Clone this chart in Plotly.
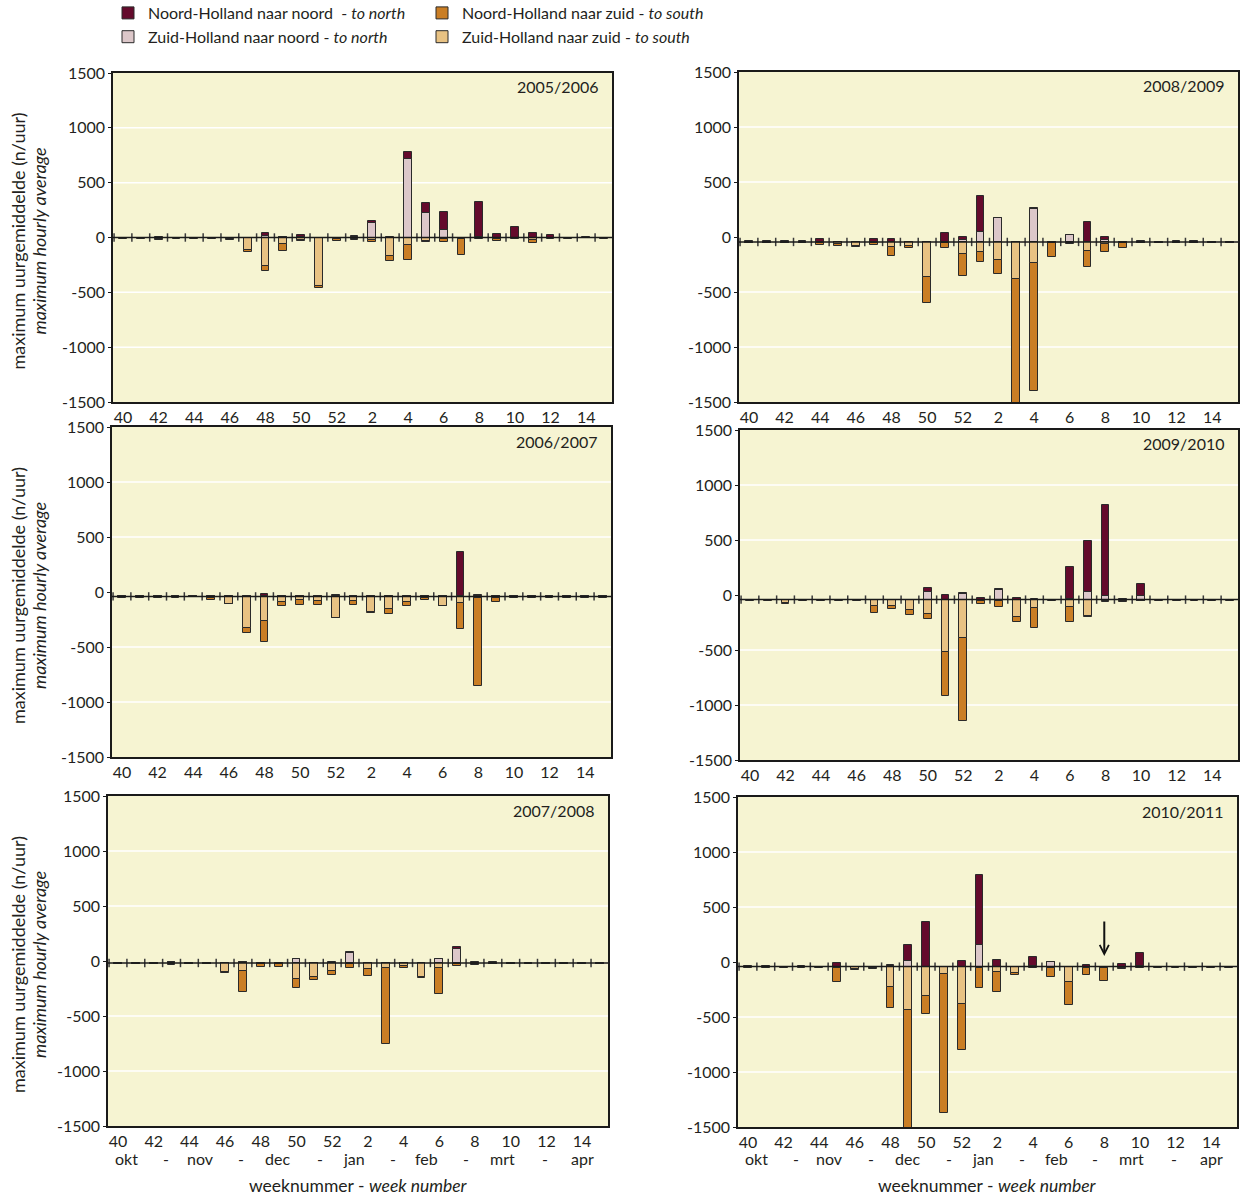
import plotly.graph_objects as go

# ---------------------------------------------------------------------------
# Week axis: week 40 of the first year up to week 15 of the next year
weeks = list(range(40, 53)) + list(range(1, 16))
tick_weeks = [40, 42, 44, 46, 48, 50, 52, 2, 4, 6, 8, 10, 12, 14]
y_ticks = [-1500, -1000, -500, 0, 500, 1000, 1500]
months = ["okt", "-", "nov", "-", "dec", "-", "jan", "-", "feb", "-", "mrt", "-", "apr"]

seasons = ["2005/2006", "2006/2007", "2007/2008", "2008/2009", "2009/2010", "2010/2011"]

# Maximum hourly average per week (n/uur); north positive, south as magnitudes
nh_noord_0506 = [0, 0, 8, 0, 0, 0, 0, 0, 25, 0, 20, 0, 0, 8, 10, 5, 64, 91, 167, 0, 318, 33, 100, 40, 24, 0, 8, 0]
zh_noord_0506 = [0, 0, 0, 0, 0, 0, 0, 0, 15, 5, 7, 0, 0, 5, 136, 0, 712, 221, 70, 0, 5, 0, 0, 0, 0, 0, 0, 0]
zh_zuid_0506 = [5, 5, 12, 5, 5, 8, 15, 115, 264, 60, 20, 445, 15, 12, 25, 173, 67, 30, 15, 15, 5, 15, 5, 20, 5, 8, 3, 5]
nh_zuid_0506 = [8, 6, 10, 6, 6, 8, 12, 15, 40, 67, 16, 15, 21, 12, 14, 42, 136, 15, 30, 145, 8, 21, 10, 32, 6, 8, 4, 6]

nh_noord_0607 = [0, 0, 0, 0, 6, 0, 0, 0, 20, 0, 0, 0, 15, 0, 0, 0, 0, 0, 0, 403, 15, 0, 8, 0, 8, 8, 0, 0]
zh_noord_0607 = [0, 0, 0, 0, 0, 0, 0, 0, 0, 0, 0, 0, 0, 0, 0, 0, 0, 0, 0, 5, 0, 0, 0, 0, 0, 0, 0, 0]
zh_zuid_0607 = [5, 5, 5, 5, 3, 10, 67, 285, 224, 52, 30, 45, 194, 45, 145, 112, 52, 10, 85, 58, 15, 10, 5, 5, 5, 5, 5, 5]
nh_zuid_0607 = [6, 6, 6, 6, 5, 20, 6, 45, 188, 36, 48, 33, 6, 30, 6, 45, 33, 20, 6, 236, 803, 40, 8, 5, 5, 5, 5, 5]

nh_noord_0708 = [0, 0, 0, 8, 0, 0, 0, 0, 0, 0, 0, 0, 8, 10, 0, 0, 0, 0, 0, 15, 8, 8, 0, 0, 0, 0, 0, 0]
zh_noord_0708 = [0, 0, 0, 5, 0, 0, 0, 12, 0, 0, 33, 0, 0, 88, 0, 0, 0, 0, 33, 130, 0, 0, 0, 0, 0, 0, 0, 0]
zh_zuid_0708 = [5, 5, 5, 8, 5, 5, 79, 73, 8, 8, 148, 127, 76, 8, 58, 45, 25, 127, 42, 8, 8, 5, 5, 5, 5, 5, 5, 5]
nh_zuid_0708 = [6, 6, 6, 8, 6, 6, 9, 188, 25, 25, 79, 24, 33, 37, 58, 688, 25, 9, 240, 20, 10, 6, 6, 6, 6, 6, 6, 6]

nh_noord_0809 = [5, 5, 5, 5, 30, 0, 0, 30, 24, 0, 0, 82, 27, 327, 5, 0, 8, 0, 5, 179, 25, 0, 5, 0, 5, 5, 0, 0]
zh_noord_0809 = [0, 0, 0, 0, 0, 0, 0, 0, 0, 0, 0, 0, 15, 91, 215, 0, 303, 0, 60, 0, 20, 0, 0, 0, 0, 0, 0, 0]
zh_zuid_0809 = [5, 5, 5, 5, 8, 15, 35, 8, 45, 40, 321, 8, 106, 91, 164, 336, 191, 5, 8, 79, 18, 8, 5, 5, 5, 5, 5, 5]
nh_zuid_0809 = [6, 6, 6, 6, 17, 25, 10, 17, 79, 15, 233, 50, 200, 88, 124, 1180, 1167, 136, 8, 152, 76, 48, 6, 6, 6, 6, 6, 6]

nh_noord_0910 = [0, 0, 0, 0, 0, 0, 0, 0, 0, 0, 39, 39, 5, 15, 5, 15, 10, 0, 291, 467, 833, 10, 106, 0, 0, 0, 0, 0]
zh_noord_0910 = [0, 0, 0, 0, 0, 0, 0, 0, 0, 0, 67, 0, 52, 0, 91, 0, 0, 0, 5, 67, 30, 0, 36, 0, 0, 0, 0, 0]
zh_zuid_0910 = [5, 5, 30, 5, 5, 5, 5, 61, 61, 97, 130, 479, 348, 15, 15, 161, 79, 5, 64, 152, 8, 8, 8, 5, 5, 5, 5, 5]
nh_zuid_0910 = [6, 6, 10, 6, 6, 6, 8, 61, 21, 45, 48, 400, 758, 24, 55, 45, 182, 10, 139, 6, 10, 10, 8, 6, 6, 6, 6, 6]

nh_noord_1011 = [5, 5, 0, 5, 0, 33, 0, 0, 10, 148, 409, 0, 48, 633, 61, 0, 76, 0, 0, 15, 0, 20, 118, 0, 0, 0, 0, 0]
zh_noord_1011 = [0, 0, 0, 0, 0, 0, 0, 0, 5, 52, 0, 0, 0, 197, 0, 0, 10, 39, 0, 0, 0, 0, 10, 0, 0, 0, 0, 0]
zh_zuid_1011 = [5, 5, 5, 5, 5, 8, 20, 8, 182, 397, 264, 64, 339, 8, 48, 61, 5, 8, 142, 8, 12, 8, 5, 5, 5, 5, 5, 5]
nh_zuid_1011 = [6, 6, 6, 6, 8, 133, 10, 10, 194, 1150, 167, 1264, 421, 182, 182, 15, 5, 85, 209, 64, 115, 10, 8, 6, 6, 6, 6, 6]

series_by_season = {
    "2005/2006": (nh_noord_0506, zh_noord_0506, zh_zuid_0506, nh_zuid_0506),
    "2006/2007": (nh_noord_0607, zh_noord_0607, zh_zuid_0607, nh_zuid_0607),
    "2007/2008": (nh_noord_0708, zh_noord_0708, zh_zuid_0708, nh_zuid_0708),
    "2008/2009": (nh_noord_0809, zh_noord_0809, zh_zuid_0809, nh_zuid_0809),
    "2009/2010": (nh_noord_0910, zh_noord_0910, zh_zuid_0910, nh_zuid_0910),
    "2010/2011": (nh_noord_1011, zh_noord_1011, zh_zuid_1011, nh_zuid_1011),
}

# ---------------------------------------------------------------------------
# Styling / layout settings
W, H = 1246, 1195
FONT = "Lato, 'Open Sans', sans-serif"
TXT = "#231F20"
BG = "#F6F4D2"
C_NH_NOORD = "#640A2C"
C_ZH_NOORD = "#DCC7C9"
C_NH_ZUID = "#CA7E25"
C_ZH_ZUID = "#E8C283"
EDGE = "#2A2A2A"

# horizontal axis crossing level of each panel (n/uur)
axis_cross = {"2005/2006": 0, "2006/2007": -40, "2007/2008": -18,
              "2008/2009": -45, "2009/2010": -42, "2010/2011": -42}

# panel boxes in pixels: (left, right, top, bottom)
boxes = {
    "2005/2006": (113, 612, 73, 402),
    "2008/2009": (739, 1238, 72, 402),
    "2006/2007": (112, 611, 427, 757),
    "2009/2010": (740, 1238, 430, 760),
    "2007/2008": (108, 608, 796, 1126),
    "2010/2011": (738, 1237, 797, 1127),
}
panel_order = ["2005/2006", "2008/2009", "2006/2007", "2009/2010", "2007/2008", "2010/2011"]
month_pos = [0.5, 2.7, 4.6, 6.9, 8.95, 11.3, 13.2, 15.4, 17.3, 19.5, 21.55, 23.9, 26.0]
grid_levels = [-1000, -500, 500, 1000]

xs = list(range(len(weeks)))
tickvals = [weeks.index(w) for w in tick_weeks]

fig = go.Figure()
layout = dict(
    width=W, height=H, autosize=False,
    margin=dict(l=0, r=0, t=0, b=0, autoexpand=False),
    paper_bgcolor="white", plot_bgcolor=BG,
    barmode="overlay", bargap=0,
    font=dict(family=FONT, size=16, color=TXT),
    showlegend=True,
)
shapes, annotations = [], []

legend_names = {
    "nh_noord": ("Noord-Holland naar noord  - <i>to north</i>", "legend"),
    "zh_noord": ("Zuid-Holland naar noord - <i>to north</i>", "legend"),
    "nh_zuid": ("Noord-Holland naar zuid - <i>to south</i>", "legend2"),
    "zh_zuid": ("Zuid-Holland naar zuid - <i>to south</i>", "legend2"),
}
legend_rank = {"nh_noord": 1, "zh_noord": 2, "nh_zuid": 3, "zh_zuid": 4}

for i, season in enumerate(panel_order, start=1):
    sfx = "" if i == 1 else str(i)
    xa, ya = "x" + sfx, "y" + sfx
    l, r, t, b = boxes[season]
    nh_n, zh_n, zh_z, nh_z = series_by_season[season]
    c0 = axis_cross[season]
    first = i == 1

    # stacked segments, starting from the axis crossing level
    specs = [
        ("zh_noord", zh_n, [c0] * len(xs), C_ZH_NOORD),
        ("nh_noord", nh_n, [c0 + v for v in zh_n], C_NH_NOORD),
        ("zh_zuid", [-v for v in zh_z], [c0] * len(xs), C_ZH_ZUID),
        ("nh_zuid", [-v for v in nh_z], [c0 - v for v in zh_z], C_NH_ZUID),
    ]
    for key, vals, base, col in specs:
        name, leg = legend_names[key]
        fig.add_trace(go.Bar(
            x=xs, y=vals, base=base, width=0.44,
            marker=dict(color=col, line=dict(color=EDGE, width=1)),
            name=name, legend=leg, showlegend=first, legendrank=legend_rank[key],
            xaxis=xa, yaxis=ya, hoverinfo="skip",
        ))

    # small category ticks along the crossing line
    fig.add_trace(go.Scatter(
        x=[k + 0.5 for k in range(-1, len(xs))], y=[c0] * (len(xs) + 1),
        mode="markers", marker=dict(symbol="line-ns", size=6,
                                    line=dict(color="#3a3a3a", width=1.5)),
        showlegend=False, hoverinfo="skip", xaxis=xa, yaxis=ya,
    ))

    layout["xaxis" + sfx] = dict(
        domain=[l / W, r / W], anchor=ya, range=[-0.56, 27.45],
        tickmode="array", tickvals=tickvals, ticktext=[str(w) for w in tick_weeks],
        ticks="", showgrid=False, zeroline=False,
        showline=True, linecolor="#1a1a1a", linewidth=1.5, mirror=True,
        tickfont=dict(family=FONT, size=16, color=TXT),
    )
    layout["yaxis" + sfx] = dict(
        domain=[1 - b / H, 1 - t / H], anchor=xa, range=[-1500, 1500],
        tickmode="array", tickvals=y_ticks, ticktext=[str(v) for v in y_ticks],
        ticks="outside", ticklen=3, tickcolor="#1a1a1a",
        showgrid=False, zeroline=False,
        showline=True, linecolor="#1a1a1a", linewidth=1.5, mirror=True,
        tickfont=dict(family=FONT, size=16, color=TXT),
    )

    for g in grid_levels:
        shapes.append(dict(type="line", xref=xa + " domain", yref=ya,
                           x0=0, x1=1, y0=g, y1=g, layer="below",
                           line=dict(color="white", width=1.5)))
    shapes.append(dict(type="line", xref=xa + " domain", yref=ya,
                       x0=0, x1=1, y0=c0, y1=c0, layer="above",
                       line=dict(color="#1a1a1a", width=1.5)))

    annotations.append(dict(
        text=season, xref=xa + " domain", yref=ya + " domain",
        x=0.976, y=1 - 14 / (b - t), xanchor="right", yanchor="middle",
        showarrow=False, font=dict(family=FONT, size=16, color=TXT),
    ))

    if l < W / 2:
        yc = 1 - ((t + b) / 2 + 4) / H
        annotations.append(dict(
            text="maximum uurgemiddelde (n/uur)", xref="paper", yref="paper",
            x=18 / W, y=yc, textangle=-90, showarrow=False,
            xanchor="center", yanchor="middle",
            font=dict(family=FONT, size=18, color=TXT)))
        annotations.append(dict(
            text="<i>maximum hourly average</i>", xref="paper", yref="paper",
            x=39 / W, y=yc, textangle=-90, showarrow=False,
            xanchor="center", yanchor="middle",
            font=dict(family=FONT, size=18, color=TXT)))

    if season in ("2007/2008", "2010/2011"):
        for m, mx in zip(months, month_pos):
            annotations.append(dict(
                text=m, xref=xa, yref="paper", x=mx, y=1 - 1158 / H,
                xanchor="center", yanchor="middle", showarrow=False,
                font=dict(family=FONT, size=16, color=TXT)))
        annotations.append(dict(
            text="weeknummer - <i>week number</i>", xref=xa + " domain", yref="paper",
            x=0.5, y=1 - 1185 / H, xanchor="center", yanchor="middle",
            showarrow=False, font=dict(family=FONT, size=17.5, color=TXT)))

# arrow marking week 8 of 2010/2011
annotations.append(dict(
    xref="x6", yref="y6", x=weeks.index(8), y=55, ax=0, ay=-36,
    showarrow=True, arrowhead=5, arrowsize=0.9, arrowwidth=2, arrowcolor="#111",
    text=""))

layout["shapes"] = shapes
layout["annotations"] = annotations
layout["legend"] = dict(
    x=108 / W, y=1 + 4 / H, xanchor="left", yanchor="top", orientation="v",
    bgcolor="rgba(0,0,0,0)", font=dict(family=FONT, size=16, color=TXT),
    traceorder="normal",
)
layout["legend2"] = dict(
    x=422 / W, y=1 + 4 / H, xanchor="left", yanchor="top", orientation="v",
    bgcolor="rgba(0,0,0,0)", font=dict(family=FONT, size=16, color=TXT),
    traceorder="normal",
)

fig.update_layout(**layout)
fig.write_html("out.html")
